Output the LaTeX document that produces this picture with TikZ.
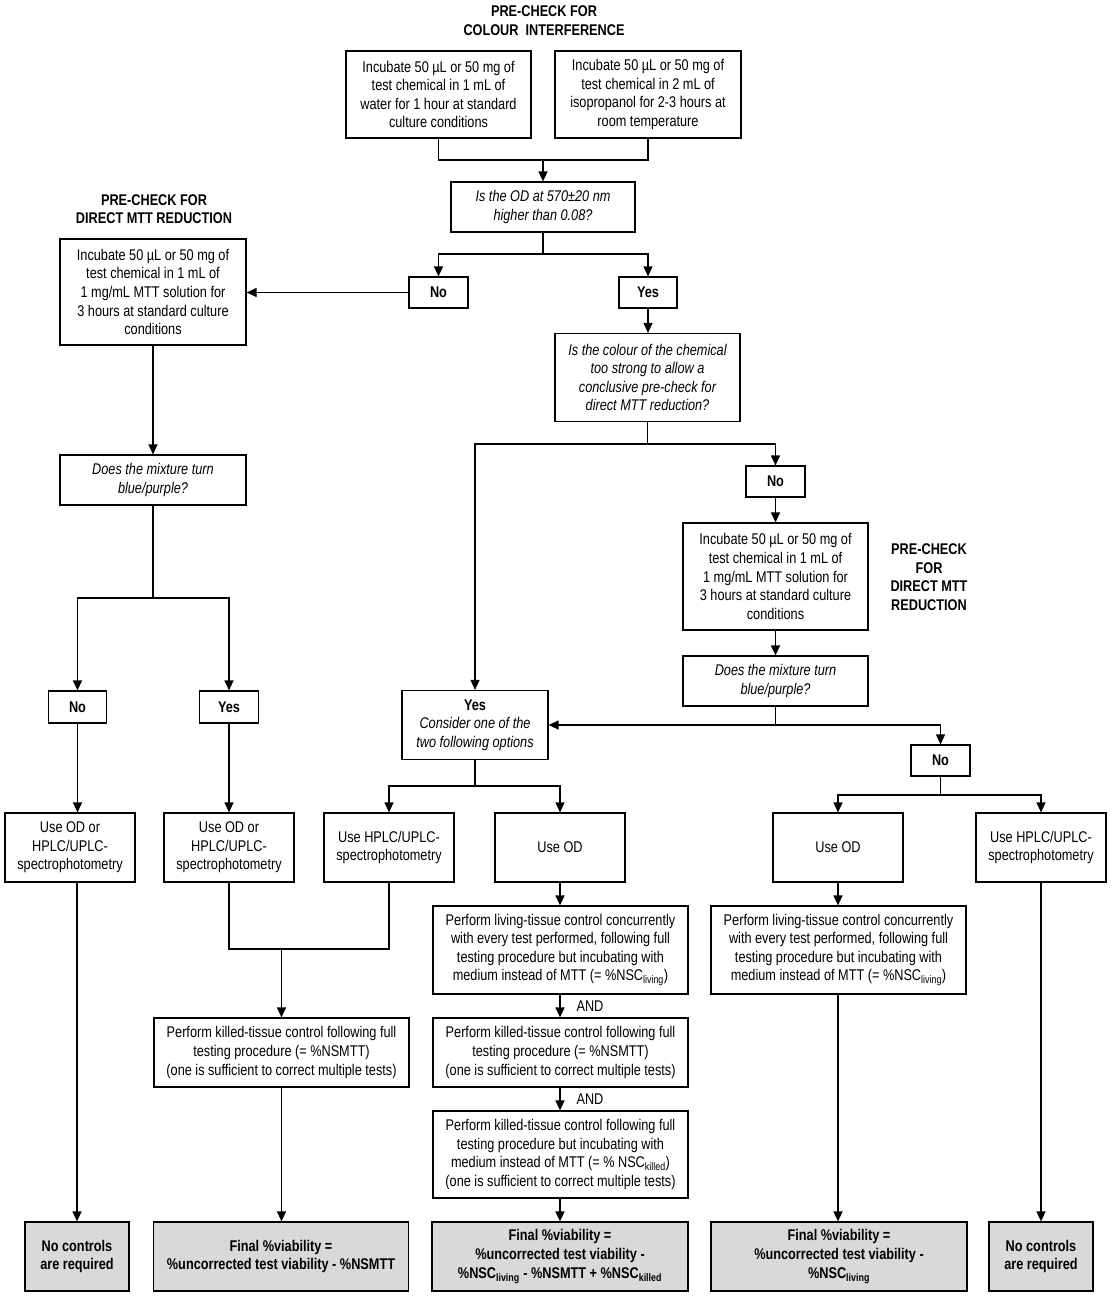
\documentclass[tikz,border=0pt]{standalone}
\usepackage{fontspec}
\setmainfont{Liberation Sans}[FakeStretch=0.82]
\usetikzlibrary{arrows.meta}
\definecolor{fingray}{RGB}{217,217,217}
\newcommand{\bodyfont}{\fontsize{15.5}{18.6}\selectfont}
\begin{document}
\begin{tikzpicture}[x=1pt,y=-1pt,
  box/.style={draw, line width=1.2pt, align=center, inner sep=0pt, font=\bodyfont},
  qbox/.style={box, font=\bodyfont\itshape},
  yn/.style={box, font=\bodyfont\bfseries},
  fin/.style={box, fill=fingray, font=\bodyfont\bfseries},
  ttl/.style={align=center, inner sep=0pt, font=\bodyfont\bfseries},
  andlbl/.style={inner sep=0pt, font=\bodyfont},
  lnk/.style={line width=1.2pt},
  arr/.style={lnk, -{Triangle[length=10pt,width=9pt]}}
]
\fill[white] (0,0) rectangle (1112,1298);
\useasboundingbox (0,0) rectangle (1112,1298);

% titles
\node[ttl] (t1) at (544,20.5) {PRE-CHECK FOR\\COLOUR\ \ INTERFERENCE};
\node[ttl] (t2) at (154,209) {PRE-CHECK FOR\\DIRECT MTT REDUCTION};
\node[ttl] (t3) at (929,577) {PRE-CHECK\\FOR\\DIRECT MTT\\REDUCTION};

% top
\node[box, minimum width=185pt, minimum height=87pt] (a1) at (438.5,94.5) {Incubate 50 µL or 50 mg of\\test chemical in 1 mL of\\water for 1 hour at standard\\culture conditions};
\node[box, minimum width=186pt, minimum height=87pt] (a2) at (648,94.5) {Incubate 50 µL or 50 mg of\\test chemical in 2 mL of\\isopropanol for 2-3 hours at\\room temperature};
\node[qbox, minimum width=184pt, minimum height=50pt] (d1) at (543,207) {Is the OD at 570±20 nm\\higher than 0.08?};
\node[yn, minimum width=59pt, minimum height=31pt] (n1) at (438.5,292.5) {No};
\node[yn, minimum width=58pt, minimum height=31pt] (y1) at (648,292.5) {Yes};

% left branch
\node[box, minimum width=186pt, minimum height=106pt] (b1) at (153,292) {Incubate 50 µL or 50 mg of\\test chemical in 1 mL of\\1 mg/mL MTT solution for\\3 hours at standard culture\\conditions};
\node[qbox, minimum width=186pt, minimum height=50pt] (d2) at (153,480) {Does the mixture turn\\blue/purple?};
\node[yn, minimum width=58.5pt, minimum height=32pt] (n2) at (77.5,707) {No};
\node[yn, minimum width=58.5pt, minimum height=32pt] (y2) at (229,707) {Yes};

% middle / right upper
\node[qbox, minimum width=185pt, minimum height=88pt] (d3) at (647.5,377.5) {Is the colour of the chemical\\too strong to allow a\\conclusive pre-check for\\direct MTT reduction?};
\node[yn, minimum width=59pt, minimum height=31pt] (n3) at (775.5,481.5) {No};
\node[box, minimum width=185pt, minimum height=107pt] (b2) at (775.5,576.5) {Incubate 50 µL or 50 mg of\\test chemical in 1 mL of\\1 mg/mL MTT solution for\\3 hours at standard culture\\conditions};
\node[qbox, minimum width=185pt, minimum height=50pt] (d4) at (775.5,681) {Does the mixture turn\\blue/purple?};
\node[box, minimum width=146pt, minimum height=69pt] (y3) at (475,725) {\textbf{Yes}\\\textit{Consider one of the}\\\textit{two following options}};
\node[yn, minimum width=59pt, minimum height=31pt] (n4) at (940.5,760.5) {No};

% method boxes
\node[box, minimum width=130pt, minimum height=69pt] (e1) at (70,847.5) {Use OD or\\HPLC/UPLC-\\spectrophotometry};
\node[box, minimum width=130pt, minimum height=69pt] (e2) at (229,847.5) {Use OD or\\HPLC/UPLC-\\spectrophotometry};
\node[box, minimum width=130pt, minimum height=69pt] (e3) at (389,847.5) {Use HPLC/UPLC-\\spectrophotometry};
\node[box, minimum width=130pt, minimum height=69pt] (e4) at (560,847.5) {Use OD};
\node[box, minimum width=130pt, minimum height=69pt] (e5) at (838,847.5) {Use OD};
\node[box, minimum width=130pt, minimum height=69pt] (e6) at (1041,847.5) {Use HPLC/UPLC-\\spectrophotometry};

% control boxes
\node[box, minimum width=255pt, minimum height=69pt] (f1) at (281.5,1052.5) {Perform killed-tissue control following full\\testing procedure (= \%NSMTT)\\(one is sufficient to correct multiple tests)};
\node[box, minimum width=255pt, minimum height=88pt] (h1) at (560.5,950) {Perform living-tissue control concurrently\\with every test performed, following full\\testing procedure but incubating with\\medium instead of MTT (= \%NSC\textsubscript{living})};
\node[box, minimum width=255pt, minimum height=69pt] (h2) at (560.5,1052.5) {Perform killed-tissue control following full\\testing procedure (= \%NSMTT)\\(one is sufficient to correct multiple tests)};
\node[box, minimum width=255pt, minimum height=87pt] (h3) at (560.5,1154.5) {Perform killed-tissue control following full\\testing procedure but incubating with\\medium instead of MTT (= \% NSC\textsubscript{killed})\\(one is sufficient to correct multiple tests)};
\node[box, minimum width=255pt, minimum height=88pt] (h4) at (838.5,950) {Perform living-tissue control concurrently\\with every test performed, following full\\testing procedure but incubating with\\medium instead of MTT (= \%NSC\textsubscript{living})};
\node[andlbl] (and1) at (590,1006) {AND};
\node[andlbl] (and2) at (590,1099) {AND};

% final boxes
\node[fin, minimum width=104pt, minimum height=69pt] (g1) at (77,1256.5) {No controls\\are required};
\node[fin, minimum width=255pt, minimum height=69pt] (g2) at (281,1256.5) {Final \%viability =\\\%uncorrected test viability - \%NSMTT};
\node[fin, minimum width=256pt, minimum height=69pt] (g3) at (560,1256.5) {Final \%viability =\\\%uncorrected test viability -\\\%NSC\textsubscript{living} - \%NSMTT + \%NSC\textsubscript{killed}};
\node[fin, minimum width=256pt, minimum height=69pt] (g4) at (839,1256.5) {Final \%viability =\\\%uncorrected test viability -\\\%NSC\textsubscript{living}};
\node[fin, minimum width=104pt, minimum height=69pt] (g5) at (1041,1256.5) {No controls\\are required};

% connectors
\coordinate (j1) at (543,160);
\draw[lnk] (a1.south) |- (j1) -| (a2.south);
\draw[arr] (j1) -- (d1.north);
\coordinate (j2) at (543,254);
\draw[lnk] (d1.south) -- (j2);
\draw[arr] (j2) -| (n1.north);
\draw[arr] (j2) -| (y1.north);
\draw[arr] (n1.west) -- (n1.west -| b1.east);
\draw[arr] (b1.south) -- (d2.north);
\coordinate (j3) at (153,598);
\draw[lnk] (d2.south) -- (j3);
\draw[arr] (j3) -| (n2.north);
\draw[arr] (j3) -| (y2.north);
\draw[arr] (n2.south) -- (n2.south |- e1.north);
\draw[arr] (y2.south) -- (y2.south |- e2.north);
\draw[arr] (g1.north |- e1.south) -- (g1.north);
\coordinate (j4) at (281.5,949);
\draw[lnk] (e2.south) |- (j4) -| (e3.south);
\draw[arr] (j4) -- (f1.north);
\draw[arr] (f1.south) -- (f1.south |- g2.north);
\draw[arr] (y1.south) -- (y1.south |- d3.north);
\coordinate (j5) at (647.5,444);
\draw[lnk] (d3.south) -- (j5);
\draw[arr] (j5) -| (y3.north);
\draw[arr] (j5) -| (n3.north);
\draw[arr] (n3.south) -- (b2.north);
\draw[arr] (b2.south) -- (d4.north);
\coordinate (j6) at (775.5,725);
\draw[lnk] (d4.south) -- (j6);
\draw[arr] (j6) -- (y3.east);
\draw[arr] (j6) -| (n4.north);
\coordinate (j7) at (940.5,795);
\draw[lnk] (n4.south) -- (j7);
\draw[arr] (j7) -| (e5.north);
\draw[arr] (j7) -| (e6.north);
\coordinate (j8) at (475,786);
\draw[lnk] (y3.south) -- (j8);
\draw[arr] (j8) -| (e3.north);
\draw[arr] (j8) -| (e4.north);
\draw[arr] (e4.south) -- (e4.south |- h1.north);
\draw[arr] (e4.south |- h1.south) -- (e4.south |- h2.north);
\draw[arr] (e4.south |- h2.south) -- (e4.south |- h3.north);
\draw[arr] (e4.south |- h3.south) -- (e4.south |- g3.north);
\draw[arr] (e5.south) -- (e5.south |- h4.north);
\draw[arr] (e5.south |- h4.south) -- (e5.south |- g4.north);
\draw[arr] (e6.south) -- (g5.north);
\end{tikzpicture}
\end{document}
